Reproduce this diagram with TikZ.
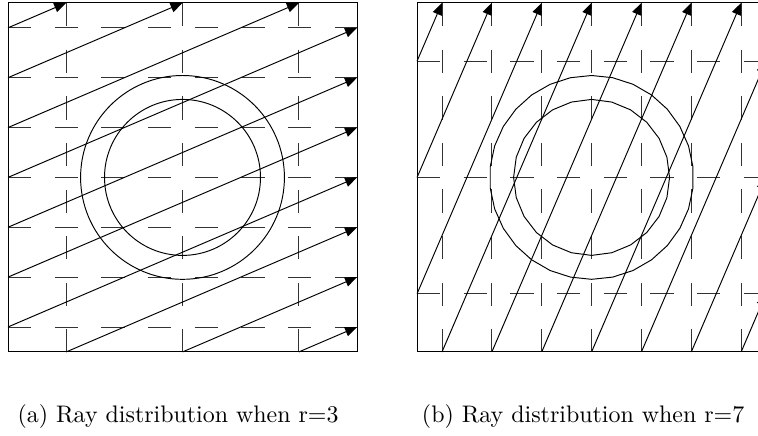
\documentclass[tikz,border=0pt]{standalone}
\usetikzlibrary{arrows.meta}

\begin{document}
\begin{tikzpicture}[>={Triangle[length=5pt,width=4pt]}, line width=0.4pt,
  gridline/.style={black!80, dash pattern=on 9.75pt off 9.75pt},
  ray/.style={->, black}]
  \useasboundingbox (-3.34pt,-35.1pt) rectangle (313.5pt,147.1pt);
  \clip (-3.34pt,-35.1pt) rectangle (313.5pt,147.1pt);

  % left panel, r=3
  \begin{scope}[x=48.63pt, y=20.84pt]
    \foreach \x in {0.5,1.5,2.5} \draw[gridline] (\x,7) -- (\x,0);
    \foreach \y in {0.5,1.5,...,6.5} \draw[gridline] (0,\y) -- (3,\y);
    \draw (1.5,3.5) circle[radius=42.6pt];
    \draw (1.5,3.5) circle[radius=32.6pt];
    \foreach \y in {0.5,1.5,...,6.5} \draw[ray] (0,\y) -- ++({min(3,7-\y)},{min(3,7-\y)});
    \foreach \x in {0.5,1.5,2.5} \draw[ray] (\x,0) -- ++({3-\x},{3-\x});
    \draw (0,0) rectangle (3,7);
  \end{scope}

  % right panel, r=7
  \begin{scope}[shift={(171pt,0pt)}, x=20.84pt, y=48.63pt]
    \foreach \x in {0.5,1.5,...,6.5} \draw[gridline] (\x,3) -- (\x,0);
    \foreach \y in {0.5,1.5,2.5} \draw[gridline] (0,\y) -- (7,\y);
    \draw[shift={(3.5,1.5)}] plot[domain=90:450, samples=31] (\x:42.6pt) -- cycle;
    \draw[shift={(3.5,1.5)}] plot[domain=90:450, samples=25] (\x:32.6pt) -- cycle;
    \foreach \y in {0.5,1.5,2.5} \draw[ray] (0,\y) -- ++({3-\y},{3-\y});
    \foreach \x in {0.5,1.5,...,6.5} \draw[ray] (\x,0) -- ++({min(3,7-\x)},{min(3,7-\x)});
    \draw (0,0) rectangle (7,3);
  \end{scope}

  \node[anchor=base] (capa) at (71.1pt,-29.7pt) {(a) Ray distribution when r=3};
  \node[anchor=base] (capb) at (240.4pt,-29.7pt) {(b) Ray distribution when r=7};
\end{tikzpicture}
\end{document}
